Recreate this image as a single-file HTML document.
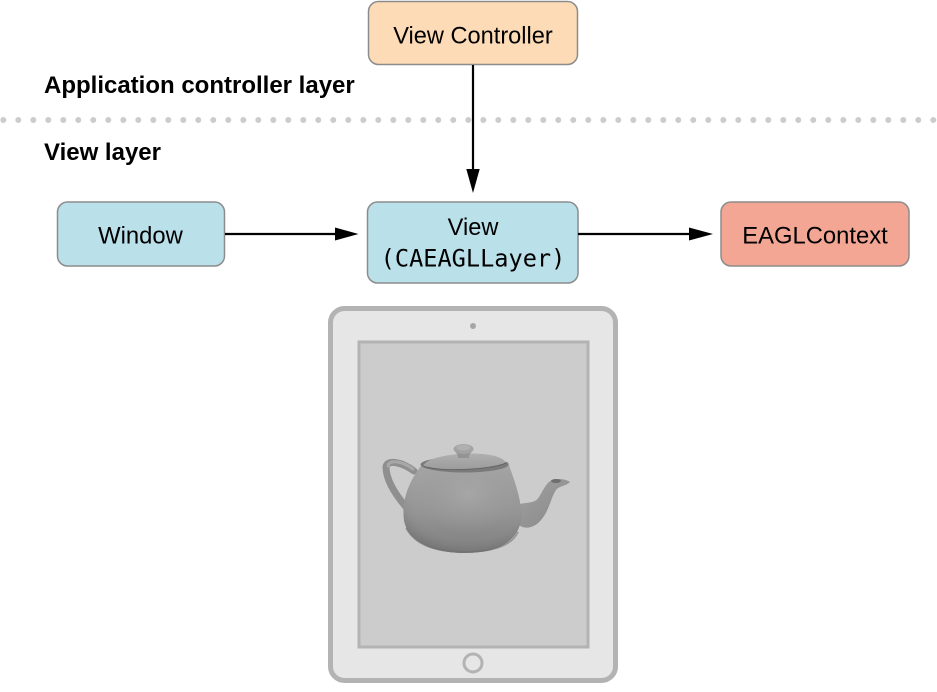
<!DOCTYPE html>
<html>
<head>
<meta charset="utf-8">
<style>
html,body{margin:0;padding:0;background:#fff;}
svg{display:block;}
</style>
</head>
<body>
<svg width="937" height="692" viewBox="0 0 937 692" xmlns="http://www.w3.org/2000/svg">
  <defs>
    <linearGradient id="bodyG" x1="0" y1="0" x2="0" y2="1">
      <stop offset="0" stop-color="#a6a6a6"/>
      <stop offset="0.55" stop-color="#959595"/>
      <stop offset="0.85" stop-color="#858585"/>
      <stop offset="1" stop-color="#7a7a7a"/>
    </linearGradient>
    <radialGradient id="bodyR" cx="0.55" cy="0.35" r="0.65">
      <stop offset="0" stop-color="#a9a9a9" stop-opacity="0.8"/>
      <stop offset="0.7" stop-color="#9a9a9a" stop-opacity="0"/>
      <stop offset="1" stop-color="#6f6f6f" stop-opacity="0.5"/>
    </radialGradient>
    <linearGradient id="lidG" x1="0" y1="0" x2="0" y2="1">
      <stop offset="0" stop-color="#b0b0b0"/>
      <stop offset="1" stop-color="#9c9c9c"/>
    </linearGradient>
    <linearGradient id="spoutG" x1="0" y1="0" x2="1" y2="1">
      <stop offset="0" stop-color="#a4a4a4"/>
      <stop offset="1" stop-color="#868686"/>
    </linearGradient>
  </defs>

  <!-- dotted separator -->
  <line x1="3.3" y1="120" x2="937" y2="120" stroke="#cccccc" stroke-width="6" stroke-linecap="round" stroke-dasharray="0 15"/>

  <!-- labels -->
  <text x="44" y="93" font-family="Liberation Sans, Arial, sans-serif" font-weight="bold" font-size="24" fill="#000">Application controller layer</text>
  <text x="44" y="160" font-family="Liberation Sans, Arial, sans-serif" font-weight="bold" font-size="24" fill="#000">View layer</text>

  <!-- View Controller -->
  <rect x="368.5" y="1.5" width="209" height="63" rx="10" fill="#fddbb6" stroke="#8c8c8c" stroke-width="1.5"/>
  <text x="473" y="43.5" text-anchor="middle" font-family="Liberation Sans, Arial, sans-serif" font-size="23.6" fill="#000">View Controller</text>

  <!-- Window -->
  <rect x="57.5" y="202" width="167" height="64" rx="10" fill="#bae0ea" stroke="#8c8c8c" stroke-width="1.5"/>
  <text x="140.5" y="243.5" text-anchor="middle" font-family="Liberation Sans, Arial, sans-serif" font-size="23.8" fill="#000">Window</text>

  <!-- View -->
  <rect x="367.5" y="202" width="210.5" height="81" rx="10" fill="#bae0ea" stroke="#8c8c8c" stroke-width="1.5"/>
  <text x="473" y="235" text-anchor="middle" font-family="Liberation Sans, Arial, sans-serif" font-size="23.6" fill="#000">View</text>
  <text x="473" y="266.5" text-anchor="middle" font-family="DejaVu Sans Mono, Liberation Mono, monospace" font-size="23.6" fill="#000">(CAEAGLLayer)</text>

  <!-- EAGLContext -->
  <rect x="721" y="202" width="188" height="64" rx="10" fill="#f4a694" stroke="#8c8c8c" stroke-width="1.5"/>
  <text x="815" y="243.5" text-anchor="middle" font-family="Liberation Sans, Arial, sans-serif" font-size="23.8" fill="#000">EAGLContext</text>

  <!-- arrows -->
  <line x1="473" y1="65" x2="473" y2="171" stroke="#000" stroke-width="2.2"/>
  <polygon points="466.3,169 479.7,169 473,193" fill="#000"/>

  <line x1="225" y1="234" x2="337" y2="234" stroke="#000" stroke-width="2.2"/>
  <polygon points="335,227.5 335,240.5 358.5,234" fill="#000"/>

  <line x1="578" y1="234" x2="691" y2="234" stroke="#000" stroke-width="2.2"/>
  <polygon points="689,227.5 689,240.5 713,234" fill="#000"/>

  <!-- iPad -->
  <rect x="330.5" y="308.5" width="285" height="372" rx="14" fill="#e6e6e6" stroke="#b3b3b3" stroke-width="5"/>
  <rect x="359" y="342" width="229" height="305" fill="#cccccc" stroke="#b3b3b3" stroke-width="3"/>
  <circle cx="473" cy="326" r="3" fill="#a6a6a6"/>
  <circle cx="473" cy="663" r="9" fill="none" stroke="#b3b3b3" stroke-width="3"/>

  <!-- Teapot -->
  <!-- handle -->
  <path d="M 414 471 C 402 462, 387 459, 386 467 C 386 480, 395 494, 406 507" fill="none" stroke="#8f8f8f" stroke-width="7" stroke-linecap="round"/>
  <path d="M 413 469 C 402 461, 389 459, 388 466" fill="none" stroke="#a8a8a8" stroke-width="3" stroke-linecap="round"/>
  <!-- spout -->
  <path d="M 514 506 C 525 501, 534 505, 539 497 C 544 489, 546 483, 552 480 C 558 478, 566 479, 570 482 C 566 486, 559 486, 556 490 C 550 499, 549 514, 537 524 C 527 531, 518 527, 515 520 Z" fill="url(#spoutG)"/>
  <ellipse cx="556" cy="481" rx="5" ry="2" fill="#6e6e6e"/>
  <!-- body -->
  <path d="M 421 466 C 410 480, 401 500, 404 520 C 407 540, 430 553, 465 553 C 500 553, 518 540, 521 520 C 523 500, 513 478, 508 462 Z" fill="url(#bodyG)"/>
  <path d="M 421 466 C 410 480, 401 500, 404 520 C 407 540, 430 553, 465 553 C 500 553, 518 540, 521 520 C 523 500, 513 478, 508 462 Z" fill="url(#bodyR)"/>
  <path d="M 406 528 C 415 545, 435 552, 465 552 C 495 552, 512 545, 518 532" fill="none" stroke="#707070" stroke-width="1.5" opacity="0.6"/>
  <!-- rim -->
  <ellipse cx="464.5" cy="464.5" rx="44" ry="8" fill="#7a7a7a"/>
  <!-- lid -->
  <path d="M 423 466 C 428 452, 500 448, 506 463 C 490 470, 440 472, 423 466 Z" fill="url(#lidG)"/>
  <path d="M 423 466 C 440 472, 490 470, 506 463" fill="none" stroke="#5e5e5e" stroke-width="0.8"/>
  <!-- knob -->
  <path d="M 458 458 C 458 454, 456 453, 455 451 L 472 451 C 471 453, 469 454, 469 458 Z" fill="#949494"/>
  <ellipse cx="463.5" cy="449" rx="10" ry="5" fill="#a2a2a2"/>
  <ellipse cx="463.5" cy="447.5" rx="7" ry="3" fill="#b0b0b0"/>
</svg>
</body>
</html>
